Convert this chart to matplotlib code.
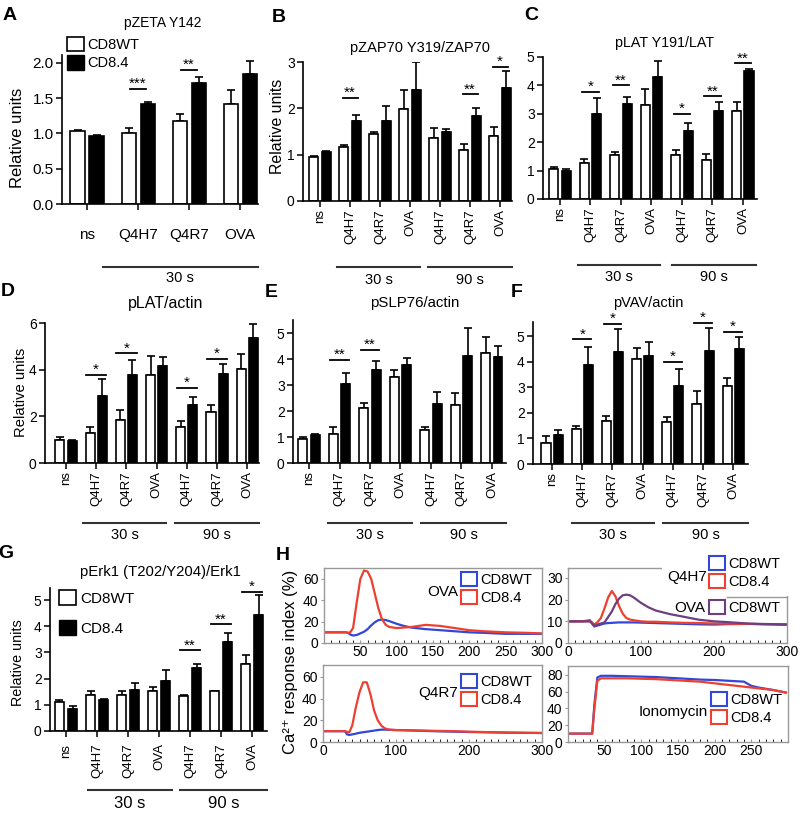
import numpy as np
import matplotlib
matplotlib.use("Agg")
import matplotlib.pyplot as plt
from matplotlib.patches import Patch, Rectangle
from matplotlib.lines import Line2D
from matplotlib.legend import Legend
from matplotlib.ticker import MultipleLocator, FormatStrFormatter

plt.rcParams['font.family'] = ['Liberation Sans', 'DejaVu Sans']
plt.rcParams['axes.linewidth'] = 1.2

# ---- bar chart data ----
groups_a = ['ns', 'Q4H7', 'Q4R7', 'OVA']
groups_7 = ['ns', 'Q4H7', 'Q4R7', 'OVA', 'Q4H7', 'Q4R7', 'OVA']
times = ['30 s', '90 s']
series = ['CD8WT', 'CD8.4']

a_wt = [1.03, 1.01, 1.17, 1.41]
a_wt_err = [0.02, 0.06, 0.11, 0.20]
a_cd84 = [0.97, 1.42, 1.72, 1.84]
a_cd84_err = [0.01, 0.03, 0.08, 0.19]
a_sig = [(1, 1.63, '***'), (2, 1.90, '**')]

b_wt = [0.95, 1.17, 1.45, 1.99, 1.37, 1.11, 1.40]
b_wt_err = [0.03, 0.04, 0.05, 0.40, 0.21, 0.13, 0.20]
b_cd84 = [1.06, 1.72, 1.72, 2.40, 1.50, 1.83, 2.44]
b_cd84_err = [0.02, 0.13, 0.32, 0.60, 0.05, 0.18, 0.36]
b_sig = [(1, 2.23, '**'), (5, 2.30, '**'), (6, 2.90, '*')]

c_wt = [1.04, 1.28, 1.54, 3.31, 1.54, 1.39, 3.09]
c_wt_err = [0.09, 0.14, 0.12, 0.56, 0.20, 0.21, 0.33]
c_cd84 = [0.99, 3.01, 3.33, 4.28, 2.39, 3.11, 4.50]
c_cd84_err = [0.05, 0.53, 0.25, 0.58, 0.27, 0.31, 0.08]
c_sig = [(1, 3.78, '*'), (2, 4.01, '**'), (4, 3.01, '*'), (5, 3.62, '**'), (6, 4.78, '**')]

d_wt = [1.00, 1.29, 1.86, 3.76, 1.54, 2.19, 4.04]
d_wt_err = [0.11, 0.25, 0.43, 0.83, 0.25, 0.28, 0.65]
d_cd84 = [0.94, 2.87, 3.76, 4.14, 2.47, 3.80, 5.37]
d_cd84_err = [0.06, 0.72, 0.64, 0.40, 0.36, 0.46, 0.60]
d_sig = [(1, 3.79, '*'), (2, 4.71, '*'), (4, 3.23, '*'), (5, 4.47, '*')]

e_wt = [0.94, 1.13, 2.13, 3.32, 1.26, 2.23, 4.23]
e_wt_err = [0.06, 0.26, 0.19, 0.26, 0.13, 0.45, 0.62]
e_cd84 = [1.07, 3.03, 3.58, 3.78, 2.27, 4.12, 4.07]
e_cd84_err = [0.04, 0.42, 0.35, 0.25, 0.47, 1.07, 0.44]
e_sig = [(1, 3.97, '**'), (2, 4.36, '**')]

f_wt = [0.84, 1.38, 1.69, 4.09, 1.66, 2.34, 3.03]
f_wt_err = [0.26, 0.09, 0.19, 0.46, 0.17, 0.53, 0.32]
f_cd84 = [1.12, 3.87, 4.39, 4.22, 3.06, 4.42, 4.49]
f_cd84_err = [0.19, 0.71, 0.87, 0.53, 0.64, 0.88, 0.48]
f_sig = [(1, 4.87, '*'), (2, 5.49, '*'), (4, 4.00, '*'), (5, 5.52, '*'), (6, 5.17, '*')]

g_wt = [1.11, 1.39, 1.36, 1.52, 1.33, 1.52, 2.55]
g_wt_err = [0.09, 0.13, 0.16, 0.16, 0.06, 0.02, 0.37]
g_cd84 = [0.85, 1.17, 1.56, 1.91, 2.39, 3.41, 4.43]
g_cd84_err = [0.09, 0.07, 0.28, 0.41, 0.16, 0.34, 0.76]
g_sig = [(4, 3.09, '**'), (5, 4.08, '**'), (6, 5.32, '*')]

# ---- Ca2+ traces (sampled by eye) ----
t_grid = [0, 10, 20, 30, 33, 36, 40, 45, 50, 55, 60, 65, 70, 75, 80, 85, 90,
          100, 110, 120, 140, 160, 180, 200, 220, 250, 280, 300]
ova_wt = [10, 10, 10, 10, 9.5, 8, 7, 7.5, 9, 10.5, 13, 16.5, 19.5, 21.5, 22, 21.5, 20.5,
          18, 16, 14.5, 13, 12, 11, 10, 9.5, 8.6, 8.6, 8.6]
ova_cd84 = [10, 10, 10, 10, 9.5, 10, 14, 38, 60, 68, 67, 60, 46, 32, 22, 17, 15,
            14, 14.5, 15, 17, 16, 14, 12, 11, 10, 9.5, 9]
q4r7_wt = [10, 10, 10, 10, 7, 6.5, 7, 7.7, 8.5, 9, 9.5, 10, 10.5, 11, 11.4, 11.4, 11.2,
           11, 10.8, 10.6, 10.2, 9.8, 9.5, 9.2, 9, 8.6, 8.4, 8.3]
q4r7_cd84 = [10, 10, 10, 10, 9.5, 9, 15, 32, 46, 55, 55, 44, 29, 20, 15, 12.5, 11.5,
             11, 11, 10.8, 10.5, 10.2, 10, 9.5, 9.2, 8.8, 8.5, 8.3]
q4h7_wt = [10, 10, 10, 10.5, 9, 7.7, 8, 8.5, 9, 9.2, 9.3, 9.4, 9.5, 9.5, 9.5, 9.5, 9.5,
           9.4, 9.3, 9.2, 9, 8.8, 8.6, 8.5, 8.7, 8.8, 8.6, 8.5]
q4h7_cd84 = [10, 10, 10, 10, 9.5, 8.5, 9.5, 11.5, 16, 21, 24, 21.5, 17, 13.5, 11.5, 10.8, 10.5,
             10, 9.8, 9.8, 9.5, 9.3, 9.2, 9, 8.9, 8.8, 8.6, 8.5]
ova_wt_b = [10, 10, 10, 10, 9, 7.7, 8.5, 9, 9.5, 12, 14.5, 18, 20.5, 22, 22.3, 22, 21,
            18.5, 16.5, 15, 13.3, 12, 10.7, 10, 9.6, 8.9, 8.7, 8.5]
t_iono = [0, 30, 33, 36, 40, 45, 60, 80, 100, 120, 140, 160, 180, 200, 220, 240, 250, 260, 280, 297]
iono_wt = [10, 10, 10, 45, 77, 79, 79, 78.5, 78, 77.5, 76.5, 75.5, 74.5, 74, 73, 72, 67, 65, 62, 59]
iono_cd84 = [10, 10, 10, 40, 73, 76, 76, 76, 75.5, 75, 74, 73, 72, 70, 68, 66, 65, 64, 62, 59]

BLUE = '#3347d6'
RED = '#ee4030'
PURPLE = '#6e3f80'

W, H = 800, 815
fig = plt.figure(figsize=(W / 100, H / 100), dpi=100)


def fx(x):
    return x / W


def fy(y):
    return 1 - y / H


def add_ax(box):
    left, top, right, bottom = box
    return fig.add_axes([fx(left), fy(bottom), (right - left) / W, (bottom - top) / H])


def bar_panel(box, xlim, ylim, yticks, labels, wt, wt_err, cd, cd_err, sig,
              off=0.2, width=0.29, half=0.28, rot=90, xfs=9.5, yfs=10, xpad=2):
    ax = add_ax(box)
    x = np.arange(len(wt))
    zeros = np.zeros(len(wt))
    for xs, v, e in ((x - off, wt, wt_err), (x + off, cd, cd_err)):
        ax.errorbar(xs, v, yerr=[zeros, e], fmt='none', ecolor='black',
                    elinewidth=1.2, capsize=2.8, capthick=1.2, zorder=1)
    ax.bar(x - off, wt, width, color='white', edgecolor='black', linewidth=1.2, zorder=2)
    ax.bar(x + off, cd, width, color='black', edgecolor='black', linewidth=1.2, zorder=2)
    for i, y, stars in sig:
        ax.plot([i - half, i + half], [y, y], color='black', lw=1.3)
        ax.annotate(stars, (i, y), xytext=(0, 0.5), textcoords='offset points',
                    ha='center', va='baseline', fontsize=11)
    ax.set_xlim(*xlim)
    ax.set_ylim(*ylim)
    ax.set_yticks(yticks)
    ax.set_xticks(x, labels, rotation=rot, fontsize=xfs)
    ax.tick_params(axis='y', labelsize=yfs, length=4, width=1.1, pad=2)
    ax.tick_params(axis='x', length=4, width=1.1, pad=xpad)
    ax.spines['top'].set_visible(False)
    ax.spines['right'].set_visible(False)
    return ax


def time_groups(ax, box, spans, y_line, y_text, fs=10.5):
    top, bottom = box[1], box[3]
    tr = ax.get_xaxis_transform()
    yl = (bottom - y_line) / (bottom - top)
    yt = (bottom - y_text) / (bottom - top)
    for (a, b), name in zip(spans, times):
        ax.plot([a, b], [yl, yl], transform=tr, clip_on=False, color='#333333', lw=1.5)
        ax.text((a + b) / 2, yt, name, transform=tr, ha='center', va='center', fontsize=fs)


def label(x, y, s, size=10.5, rot=0, **kw):
    fig.text(fx(x), fy(y), s, ha='center', va='center', fontsize=size, rotation=rot, **kw)


# ---------------- A ----------------
box = (62, 55, 258, 204)
ax = bar_panel(box, (-0.49, 3.35), (0, 2.11), [0, 0.5, 1.0, 1.5, 2.0], groups_a,
               a_wt, a_wt_err, a_cd84, a_cd84_err, a_sig, off=0.186, width=0.275,
               half=0.16, rot=0, xfs=11, yfs=11, xpad=13)
ax.yaxis.set_major_formatter(FormatStrFormatter('%.1f'))
time_groups(ax, box, [(0.31, 3.35)], 267, 278)
ax.legend(handles=[Patch(facecolor='white', edgecolor='black', lw=1.2, label=series[0]),
                   Patch(facecolor='black', edgecolor='black', label=series[1])],
          loc='upper left', bbox_to_anchor=(fx(67), fy(37)), bbox_transform=fig.transFigure,
          frameon=False, fontsize=10.5, handlelength=1.15, handleheight=1.15,
          handletextpad=0.25, labelspacing=0.2, borderpad=0, borderaxespad=0)
label(163, 23, 'pZETA Y142', 10)
label(18, 138, 'Relative units', 12, rot=90)
label(10, 16, 'A', 14, weight='bold')

# ---------------- B ----------------
box = (303, 62, 512, 201)
ax = bar_panel(box, (-0.567, 6.4), (0, 3), [0, 1, 2, 3], groups_7,
               b_wt, b_wt_err, b_cd84, b_cd84_err, b_sig, off=0.21, width=0.29, half=0.25)
time_groups(ax, box, [(0.57, 3.33), (3.6, 6.4)], 267, 280)
label(420, 48, 'pZAP70 Y319/ZAP70', 10.5)
label(277, 126, 'Relative units', 11.4, rot=90)
label(279, 17, 'B', 14, weight='bold')

# ---------------- C ----------------
box = (543, 57, 757, 199)
ax = bar_panel(box, (-0.557, 6.46), (0, 5), [0, 1, 2, 3, 4, 5], groups_7,
               c_wt, c_wt_err, c_cd84, c_cd84_err, c_sig, off=0.2, width=0.3, half=0.27)
time_groups(ax, box, [(0.59, 3.28), (3.67, 6.43)], 265, 277)
label(665, 43, 'pLAT Y191/LAT', 10.3)
label(531, 15, 'C', 14, weight='bold')

# ---------------- D ----------------
box = (45, 323, 259, 463)
ax = bar_panel(box, (-0.695, 6.39), (0, 6), [0, 2, 4, 6], groups_7,
               d_wt, d_wt_err, d_cd84, d_cd84_err, d_sig, off=0.2, width=0.3, half=0.34)
time_groups(ax, box, [(0.56, 3.31), (3.61, 6.39)], 523, 535)
label(166, 303, 'pLAT/actin', 11.5)
label(21, 392, 'Relative units', 10.6, rot=90)
label(8, 292, 'D', 14, weight='bold')

# ---------------- E ----------------
box = (293, 320, 506, 463)
ax = bar_panel(box, (-0.525, 6.46), (0, 5.5), [0, 1, 2, 3, 4, 5], groups_7,
               e_wt, e_wt_err, e_cd84, e_cd84_err, e_sig, off=0.2, width=0.29, half=0.31)
time_groups(ax, box, [(0.62, 3.38), (3.67, 6.46)], 523, 535)
label(415, 303, 'pSLP76/actin', 10.8)
label(271, 293, 'E', 14, weight='bold')

# ---------------- F ----------------
box = (533, 322, 748, 464)
ax = bar_panel(box, (-0.63, 6.49), (0, 5.55), [0, 1, 2, 3, 4, 5], groups_7,
               f_wt, f_wt_err, f_cd84, f_cd84_err, f_sig, off=0.2, width=0.3, half=0.29)
time_groups(ax, box, [(0.66, 3.38), (3.68, 6.49)], 523, 535)
label(648, 303, 'pVAV/actin', 10.5)
label(517, 293, 'F', 14, weight='bold')

# ---------------- G ----------------
box = (50, 588, 267, 731)
ax = bar_panel(box, (-0.516, 6.48), (0, 5.46), [0, 1, 2, 3, 4, 5], groups_7,
               g_wt, g_wt_err, g_cd84, g_cd84_err, g_sig, off=0.21, width=0.3, half=0.32,
               xpad=5)
time_groups(ax, box, [(0.71, 3.42), (3.68, 6.48)], 790, 803, fs=12)
ax.legend(handles=[Patch(facecolor='white', edgecolor='black', lw=1.2, label=series[0]),
                   Patch(facecolor='black', edgecolor='black', label=series[1])],
          loc='upper left', bbox_to_anchor=(fx(59), fy(590)), bbox_transform=fig.transFigure,
          frameon=False, fontsize=11, handlelength=1.1, handleheight=1.1,
          handletextpad=0.3, labelspacing=0.95, borderpad=0, borderaxespad=0)
label(160, 572, 'pErk1 (T202/Y204)/Erk1', 10.7)
label(18, 663, 'Relative units', 10.4, rot=90)
label(6, 553, 'G', 14, weight='bold')


# ---------------- H ----------------
def ca_panel(box, xlim, ylim, xticks, yticks):
    ax = add_ax(box)
    ax.set_xlim(*xlim)
    ax.set_ylim(*ylim)
    ax.set_xticks(xticks)
    ax.set_yticks(yticks)
    ax.xaxis.set_minor_locator(MultipleLocator(10))
    for s in ax.spines.values():
        s.set_color('#999999')
        s.set_linewidth(1.0)
    ax.tick_params(axis='both', labelsize=10, color='#999999', width=0.8, pad=1.5)
    ax.tick_params(axis='x', which='both', direction='in', length=2.5)
    ax.tick_params(axis='y', direction='out', length=2.5)
    return ax


def ca_legend(ax, colors, names, anchor, tag, tag_xy):
    handles = [Patch(facecolor='white', edgecolor=c, lw=1.5) for c in colors]
    leg = Legend(ax, handles, names, loc='upper left',
                 bbox_to_anchor=(fx(anchor[0]), fy(anchor[1])), bbox_transform=fig.transFigure,
                 frameon=False, fontsize=10.5, handlelength=1.1, handleheight=1.1,
                 handletextpad=0.2, labelspacing=0.2, borderpad=0, borderaxespad=0)
    leg.set_zorder(6)
    ax.add_artist(leg)
    ax.text(fx(tag_xy[0]), fy(tag_xy[1]), tag, transform=fig.transFigure, ha='right',
            va='center', fontsize=11, zorder=6)


ax = ca_panel((324, 568, 542, 643), (0, 298), (0, 70.3), [50, 100, 150, 200, 250, 300], [0, 20, 40, 60])
ax.plot(t_grid, ova_wt, color=BLUE, lw=1.6)
ax.plot(t_grid, ova_cd84, color=RED, lw=1.6)
ca_legend(ax, [BLUE, RED], series, (461, 572), 'OVA', (458, 592))

ax = ca_panel((323, 665, 542, 742), (0, 300), (0, 71), [0, 100, 200, 300], [0, 20, 40, 60])
ax.plot(t_grid, q4r7_wt, color=BLUE, lw=1.6)
ax.plot(t_grid, q4r7_cd84, color=RED, lw=1.6)
ca_legend(ax, [BLUE, RED], series, (461, 674), 'Q4R7', (458, 693))

ax = ca_panel((568, 568, 787, 643), (0, 300), (0, 34.6), [0, 100, 200, 300], [0, 10, 20, 30])
ax.plot(t_grid, q4h7_wt, color=BLUE, lw=1.6)
ax.plot(t_grid, q4h7_cd84, color=RED, lw=1.6)
ax.plot(t_grid, ova_wt_b, color=PURPLE, lw=1.6)
cover = Rectangle((fx(662), fy(596)), (792 - 662) / W, (596 - 548) / H, transform=fig.transFigure,
                  facecolor='white', edgecolor='none', zorder=4, clip_on=False)
ax.add_artist(cover)
ax.add_artist(Line2D([fx(727), fx(787)], [fy(597), fy(597)], transform=fig.transFigure,
                     color='#999999', lw=1.0, zorder=4.5, clip_on=False))
ca_legend(ax, [BLUE, RED], series, (709, 556), 'Q4H7', (707, 577))
ca_legend(ax, [PURPLE], series[:1], (709, 600), 'OVA', (705, 608))

ax = ca_panel((568, 666, 788, 742), (0, 300), (0, 90.7), [50, 100, 150, 200, 250], [0, 20, 40, 60, 80])
ax.plot(t_iono, iono_wt, color=BLUE, lw=1.6)
ax.plot(t_iono, iono_cd84, color=RED, lw=1.6)
ca_legend(ax, [BLUE, RED], series, (711, 692), 'Ionomycin', (708, 712))

label(291, 662, 'Ca²⁺ response index (%)', 12, rot=90)
label(283, 555, 'H', 14, weight='bold')

fig.savefig('out.png', dpi=100)
